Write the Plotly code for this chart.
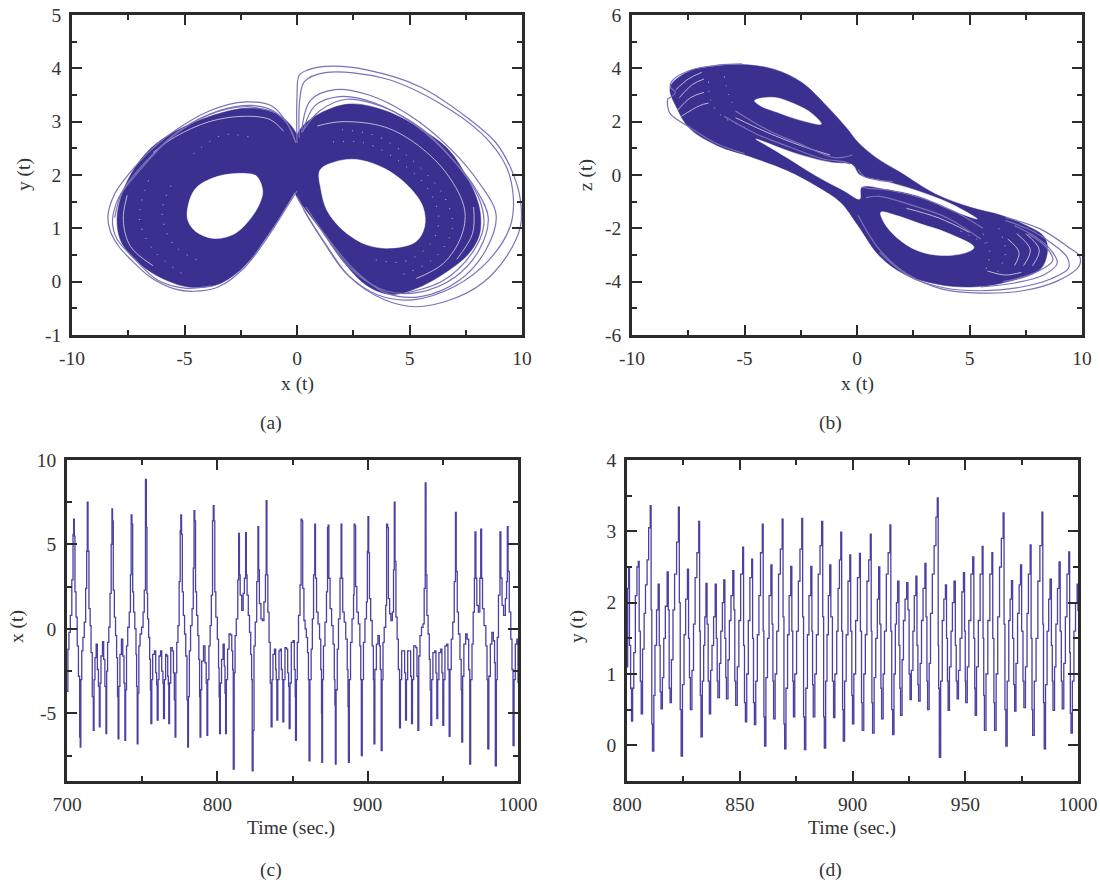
import plotly.graph_objects as go

DARK = "#3a3090"
THIN = "#7a72b8"
PALE = "#c9c5e2"
LINE = "#4a41a2"
INK = "#333333"
FRAME = "#2b2b2b"
FONT = "Liberation Serif"

# ---------- panel (a): y(t) against x(t) ----------
a_left_blob = [(-.03,2.78),(-.5,3.03),(-1.2,3.2),(-2.3,3.25),(-3.86,3.1),(-5.4,2.82),(-6.5,2.5),(-7.4,2.0),(-7.85,1.55),(-8,1.15),(-7.85,.78),(-7.4,.5),(-6.5,.18),(-5.4,-.04),(-4.6,-.11),(-3.5,-.05),(-2.3,.31),(-1.2,.93),(-.45,1.43),(.05,1.8),(.5,2.3)]
a_right_blob = [(-.3,2.0),(.03,2.78),(.8,3.1),(2.3,3.33),(3.9,3.21),(5.4,2.89),(6.7,2.49),(7.6,1.92),(8.07,1.45),(8.17,1.1),(8.07,.83),(7.6,.51),(6.7,.2),(5.4,-.11),(4.2,-.24),(3.1,-.07),(2.03,.39),(1.1,.95),(.33,1.38),(0,1.58)]
a_left_hole = [(-1.53,1.72),(-1.8,1.98),(-2.3,2.03),(-3.55,1.97),(-4.5,1.75),(-4.85,1.4),(-4.85,1.15),(-4.5,.94),(-3.7,.81),(-2.77,.9),(-2,1.22),(-1.6,1.53)]
a_right_hole = [(1.02,2.09),(1.72,2.25),(2.65,2.29),(3.9,2.12),(4.97,1.78),(5.6,1.4),(5.67,1.03),(5.28,.75),(4.2,.63),(3.1,.69),(2.03,.97),(1.33,1.34),(1.07,1.72)]
a_orbits = [
    [(0,2.6),(0,3.47),(.1,3.87),(.48,3.97),(1.56,4.04),(3.1,3.97),(5.44,3.66),(7.3,3.16),(8.85,2.6),(9.6,2.03),(9.93,1.53),(9.93,1.03),(9.31,.47),(8.23,-.03),(6.83,-.34),(5.28,-.47),(3.89,-.34),(2.34,.09),(1.25,.72),(.48,1.22),(0,1.6)],
    [(.1,2.7),(.12,3.4),(.33,3.75),(1.25,3.92),(3.9,3.81),(6.2,3.38),(8.2,2.78),(9.3,2.16),(9.62,1.53),(9.47,1.03),(8.54,.41),(7,-.09),(5.13,-.34),(3.6,-.25),(2.2,.15),(1.1,.8),(.3,1.35)],
    [(.2,2.8),(.6,3.4),(1.7,3.6),(3.2,3.5),(5,3.12),(6.8,2.5),(8.1,1.85),(8.85,1.25),(8.4,.6),(7.2,.02),(5.5,-.28),(4,-.22),(2.6,.2),(1.3,.85),(.4,1.4)],
    [(.25,2.8),(.8,3.3),(1.9,3.47),(3.4,3.36),(5.2,2.95),(6.9,2.3),(8,1.7),(8.5,1.2),(8.1,.6),(7,.08),(5.4,-.2),(4,-.18),(2.5,.2),(1.2,.9)],
    [(.3,2.85),(1,3.2),(2.2,3.42),(3.8,3.28),(5.6,2.85),(7.1,2.2),(8.1,1.55),(8.3,1.05),(7.8,.55),(6.5,.02),(4.8,-.22)],
    [(-.05,2.6),(-.3,2.87),(-1.07,3.28),(-2.3,3.37),(-3.9,3.2),(-5.4,2.84),(-6.2,2.58),(-7,2.25),(-7.7,1.9),(-8.1,1.65),(-8.4,1.25),(-8.3,.95),(-7.9,.65),(-7.4,.42),(-6.5,.08),(-5.4,-.14),(-4.6,-.18),(-3.5,-.1),(-2.3,.28),(-1.2,.9),(-.45,1.4),(0,1.7)],
    [(-.1,2.65),(-.5,3.0),(-1.3,3.25),(-2.4,3.3),(-3.9,3.14),(-5.4,2.78),(-6.9,2.17),(-7.6,1.8),(-8.05,1.45),(-8.2,1.1),(-8,.8),(-7.2,.42),(-6.2,.03),(-5,-.12),(-3.8,-.08)],
    [(-1,3.18),(-2.3,3.28),(-3.9,3.13),(-5.6,2.7),(-7,2.08),(-7.8,1.65),(-8.1,1.2)],
]
a_pale = [
    [(-6.4,2.42),(-5.4,2.72),(-3.9,3.0),(-2.4,3.1),(-1.2,3.04),(-.6,2.82)],
    [(-7.55,1.62),(-7.72,1.15),(-7.4,.66),(-6.4,.3)],
    [(.9,2.92),(2,3.0),(3.9,2.9),(5.4,2.55),(6.7,2.0),(7.45,1.35),(7.3,.85),(6.5,.34),(5.3,.06)],
    [(7.85,1.4),(7.8,.9),(7.1,.42)],
]
a_dashed = [
    [(1.6,2.62),(3,2.6),(4.4,2.3),(5.8,1.75),(6.3,1.2),(6,.75),(4.8,.38),(3.4,.42)],
    [(2,2.85),(3.6,2.72),(5.2,2.25),(6.6,1.55),(6.9,1),(6.1,.44),(4.6,.12)],
    [(-5.6,1.8),(-6,1.3),(-5.5,.7),(-4.4,.4)],
    [(-6.6,1.9),(-7,1.2),(-6.4,.6),(-5,.12)],
    [(-4.6,2.4),(-3.3,2.75),(-2,2.7)],
]

# ---------- panel (b): z(t) against x(t) ----------
b_outline = [(-8.3,3.3),(-7.44,3.9),(-6.2,4.1),(-5.1,4.14),(-3.7,3.97),(-2.45,3.47),(-1.36,2.6),(-.42,1.72),(.05,1.22),(.83,.66),(1.92,.1),(3.48,-.71),(5.04,-1.21),(6.44,-1.52),(7.4,-1.85),(8.3,-2.3),(8.47,-2.78),(8.16,-3.52),(6.6,-4.02),(5.04,-4.2),(3.48,-4.08),(2.07,-3.7),(.98,-3.02),(.05,-1.9),(-.73,-1.02),(-1.82,-.4),(-3.07,.16),(-4.63,.66),(-6.2,1.1),(-7.44,1.75),(-8.0,2.5)]
b_strip = [(-4.5,1.35),(-2.76,.82),(-1.2,.48),(-.3,.41),(-.15,.34),(.12,0),(1.3,-.25),(2.54,-.55),(4.1,-1.05),(5.35,-1.65),(4.26,-1.34),(2.7,-.78),(1.3,-.53),(.2,-.46),(.12,-.9),(-.58,-.59),(-1.82,-.03),(-3.07,.63),(-4,1.1)]
b_upper_hole = [(-4.55,2.79),(-3.7,2.91),(-2.76,2.66),(-1.98,2.29),(-1.59,1.91),(-2.45,2.04),(-3.54,2.35),(-4.3,2.6)]
b_lower_hole = [(1.06,-1.4),(1.76,-1.52),(2.85,-1.84),(3.95,-2.15),(5.2,-2.71),(4.88,-2.9),(3.79,-3.02),(2.7,-2.84),(1.76,-2.34),(1.2,-1.78)]
b_orbits = [
    [(.05,-1.52),(.98,-2.78),(2.23,-3.71),(3.79,-4.28),(5.5,-4.43),(7.38,-4.34),(8.94,-3.96),(9.88,-3.4),(9.88,-3.02),(9.4,-2.71),(8.16,-2.03),(6.6,-1.59)],
    [(1,-2.9),(2.3,-3.8),(3.8,-4.22),(5.5,-4.34),(7.2,-4.22),(8.6,-3.9),(9.4,-3.5),(9.35,-3.1),(8.8,-2.65),(7.8,-2.1),(6.6,-1.7)],
    [(5.5,-4.2),(7,-4.05),(8.3,-3.75),(8.9,-3.3),(8.6,-2.8),(7.9,-2.3),(7,-1.9)],
    [(6.5,-4),(7.8,-3.7),(8.7,-3.2),(8.4,-2.7),(7.6,-2.2)],
    [(.2,-.46),(.5,-.5),(1.5,-.58),(3,-.9),(4.4,-1.4),(5.6,-2)],
    [(.4,-.85),(1,-.8),(2.5,-1.15),(4,-1.6),(5.5,-2.4)],
    [(-.3,.41),(-.6,.5),(-1.5,.6),(-3,1.05),(-4.5,1.55),(-5.9,2.2)],
    [(-.2,.75),(-1,.65),(-2.5,1.15),(-4,1.7),(-5.4,2.4)],
    [(-8.42,2.85),(-8.42,2.6),(-8.3,2.29),(-7.44,1.79),(-6.2,1.16),(-5,.8)],
    [(-8.42,2.85),(-8.07,3.1),(-8.3,3.3),(-8.2,3.55),(-7.44,3.92),(-6.2,4.12),(-5.1,4.17)],
    [(.05,.2),(.3,-.05),(1,-.2),(1.6,-.25)],
]
b_pale = [
    [(-8.05,3.2),(-7.5,3.6),(-6.9,3.85)],
    [(-7.9,2.9),(-7.3,3.4),(-6.8,3.6)],
    [(-8,2.4),(-7.4,2.9),(-6.8,3.1)],
    [(-7.8,2.2),(-7,2.6),(-6.6,2.7)],
    [(-5.4,2.15),(-4,1.6),(-2.5,1.1),(-1.2,.75)],
    [(2.2,-1.25),(3.6,-1.6),(5,-2.15)],
    [(7.5,-2.2),(8.1,-2.8),(7.8,-3.4)],
    [(7.1,-2.2),(7.7,-2.8),(7.4,-3.4)],
    [(6.7,-2.4),(7.2,-2.9),(7,-3.4)],
    [(5.8,-3.6),(6.6,-3.75),(7.3,-3.65)],
]
b_dashed = [
    [(-6.6,3.5),(-6.5,2.8),(-6,2.2),(-5,1.8)],
    [(-5.9,3.7),(-5.7,3),(-5.4,2.5)],
    [(5.6,-2.2),(5.9,-2.9),(5.7,-3.6)],
    [(6.3,-2),(6.6,-2.9),(6.2,-3.7)],
    [(4.6,-2.1),(5.3,-2.4),(5.8,-2.6)],
]

# ---------- panel (c): x(t) against time ----------
c_samples = [
(700,-3.7),(700.6,-1.2),(701.3,-.2),(702.2,.8),(703.2,2.9),(704,5.6),(704.4,6.5),(704.9,5.5),(705.3,2.2),(706,.7),(706.8,-1),(707.6,-2.8),(708.4,-6.4),(708.8,-7),(709.2,-3),(709.8,-1.3),(710.6,-.5),(711.5,.4),(712.4,2.4),(713.1,4.6),(713.5,7.5),(714,4.6),(714.6,1.2),(715.4,.2),(716,-1.4),(716.8,-4),(717.5,-6),(718,-3),(718.6,-1.7),(719.4,-.9),(720.2,-2.4),(720.9,-3.4),(721.5,-5.8),(722,-3.2),(722.6,-1.6),(723.6,-.75),(724.4,-1.8),(725.2,-3.4),(725.9,-6.2),(726.4,-2.5),(727,-.8),(727.8,.1),(728.6,2.1),(729.4,5),(729.9,7.1),(730.3,6.4),(730.8,2.3),(731.5,.7),(732.3,-.4),(733,-1.7),(733.6,-4),(734,-6.5),(734.5,-3.4),(735.2,-1.5),(736.2,-.6),(737.1,-1.6),(737.9,-3.2),(738.5,-6.6),(739,-3.6),(739.6,-1),(740.4,.1),(741.4,1),(742.2,3.2),(742.7,6.75),(743.2,6.2),(743.7,2.2),(744.3,1),(745.1,0),(745.9,-1.5),(746.3,-3.4),(746.7,-6.8),(747.2,-3.8),(747.8,-1),(748.6,-.3),(749.6,.1),(750.6,1),(751.4,2.3),(752.2,8.85),(752.8,6),(753.2,2.1),(753.6,.6),(754.3,-.5),(755,-1.8),(755.5,-3.6),(755.8,-5.6),(756.4,-3),(757,-1.5),(758.2,-1.3),(759,-2.6),(759.6,-3.3),(760,-5.4),(760.6,-3),(761.2,-1.6),(762.2,-1.3),(763,-2.5),(763.8,-3.2),(764.2,-5.3),(764.8,-3),(765.6,-1.5),(766.4,-1.6),(767,-2.8),(767.4,-3.3),(767.7,-5.6),(768.2,-3.2),(769,-1.1),(770,-1.3),(770.8,-2.6),(771.4,-4.2),(771.9,-6.4),(772.4,-2.6),(773,-.8),(773.8,.2),(774.6,2.8),(775.3,5.8),(775.7,6.75),(776.2,5.6),(776.7,2.2),(777.4,.8),(778.2,-.3),(779,-1.6),(779.8,-4.2),(780.3,-7),(780.8,-4),(781.4,-1.3),(782.2,.2),(783.2,1.2),(784,3.6),(784.5,7),(785,6.4),(785.5,2.2),(786.2,.8),(787,-.4),(787.7,-1.8),(788.2,-4),(788.5,-6.4),(789,-3.6),(789.6,-1.9),(790.8,-1),(791.8,-2),(792.6,-3.2),(793.1,-6.3),(793.6,-3),(794.4,-1),(795.2,.2),(796,2),(796.8,6.4),(797.3,7.3),(797.8,6.4),(798.3,2.2),(799,.7),(800,-.6),(800.8,-2.3),(801.2,-4),(801.5,-6.2),(802,-3.2),(802.8,-1.8),(803.8,-.9),(804.6,-2.2),(805.1,-3.8),(805.5,-6.2),(806,-3),(806.8,-1.2),(807.8,-.3),(808.8,-.35),(809.6,-1.3),(810.2,-2.4),(810.6,-8.3),(811.2,-2.6),(811.8,-.4),(812.6,.6),(813.6,2.9),(814.2,5.65),(814.7,3.2),(815.2,2),(816.2,1.1),(817.2,2.1),(818,3),(818.8,5.7),(819.3,3.2),(819.8,2),(820.6,.8),(821.4,-.2),(822.2,-1.5),(822.8,-3),(823.2,-8.4),(823.8,-6),(824.4,-1),(825.2,.4),(826.2,2.8),(827,6.05),(827.5,3.5),(828,1.5),(829,.6),(830,.5),(831,1.6),(832,3.2),(832.5,7.6),(833,3.2),(833.6,1),(834.4,-.8),(835.2,-3.2),(835.8,-5.8),(836.4,-3),(837,-1.5),(838,-1.2),(838.8,-2.4),(839.2,-3),(839.6,-5.4),(840.2,-3),(841,-1.3),(841.8,-1.2),(842.6,-2.4),(843.2,-3),(843.6,-5.5),(844.2,-3),(845,-1.1),(846,-1.2),(846.8,-2.6),(847.4,-3.4),(847.8,-5.9),(848.4,-3.2),(849.2,-.8),(850.4,-.7),(851.2,-2.4),(851.8,-4),(852,-6.6),(852.6,-3),(853.2,-.8),(854,.8),(855,2.6),(855.7,6.5),(856.2,6.4),(856.8,2.4),(857.6,.5),(858.4,0),(859.2,-.5),(860,-1.4),(860.6,-3),(861,-7.8),(861.6,-3),(862.4,-1.2),(863.2,.6),(864,3.2),(864.8,6.2),(865.3,3),(866,1),(867,.3),(868,-.6),(868.8,-2.4),(869.3,-5),(869.5,-7.9),(870,-3),(870.6,-1),(871.6,.4),(872.6,2.2),(873.3,6),(873.7,6.15),(874.2,3),(875,1.2),(876,.2),(877,-.9),(877.8,-3),(878.2,-4.5),(878.5,-8),(879,-3.6),(879.8,-1.2),(880.6,.6),(881.6,3),(882.3,6.2),(882.8,3),(883.4,1),(884.4,.4),(885.4,-.6),(886.4,-2.4),(886.9,-4.6),(887.2,-7.9),(887.8,-3),(888.6,-.8),(889.6,.6),(890.6,2),(891,6.2),(891.5,6.1),(892,2.5),(892.8,1),(893.8,.3),(894.8,-1),(895.4,-3),(895.8,-7.5),(896.4,-3),(897.2,-.8),(898.2,.6),(899.2,1.6),(899.8,4.6),(900.2,6.65),(900.7,4.5),(901.2,1.8),(902,.5),(903,-1),(903.8,-3),(904.2,-6.8),(904.8,-2.4),(905.8,-.9),(906.8,-.4),(907.8,-1),(908.4,-2.4),(909,-7.2),(909.6,-3),(910.2,-.8),(911,.1),(912,1.4),(912.6,6.2),(913.3,6),(913.8,1.8),(914.6,.9),(915.4,.5),(916.4,1),(917.2,3.5),(917.7,7.5),(918.2,4),(918.8,.7),(919.6,-.6),(920.4,-2.4),(921.2,-5.85),(921.8,-3),(922.6,-1.3),(923.8,-1.3),(924.6,-2.6),(925.2,-5.4),(925.8,-3),(926.6,-1.3),(927.8,-1.3),(928.6,-2.8),(929.2,-5.6),(929.8,-3),(930.6,-1),(932,-1.1),(932.8,-2.8),(933.4,-6),(934,-1.6),(934.8,-.4),(935.8,.1),(936.8,.3),(937.6,2.4),(938.3,8.65),(938.8,3.2),(939.4,.8),(940.2,-.3),(941,-1.8),(941.6,-3.6),(942,-5.7),(942.6,-3),(943.4,-1.4),(944.6,-1.3),(945.4,-2.6),(946,-5.3),(946.6,-3),(947.4,-1.4),(948.6,-1.2),(949.4,-2.6),(950,-5.7),(950.6,-3),(951.4,-1),(952.6,-.9),(953.4,-2.4),(954.2,-6.35),(954.8,-2.4),(955.6,-.6),(956.6,.4),(957.6,2.8),(958.4,6.9),(958.9,3.4),(959.6,1),(960.4,-.3),(961.4,-1.8),(962.2,-3.6),(962.6,-6.7),(963.2,-2.8),(964,-.9),(965.2,-.3),(966.2,-.6),(967.2,-2.4),(967.9,-8),(968.5,-3),(969.4,-.9),(970.2,1),(971,3),(971.4,5.75),(972,3),(972.6,1.4),(973.6,1),(974.6,3),(975.2,5.9),(975.8,3),(976.4,1.2),(977.4,.2),(978.6,-1),(979.4,-3),(979.9,-7.1),(980.6,-2.8),(981.6,-.9),(982.6,-.2),(983.6,-.7),(984.4,-2),(984.9,-8.1),(985.6,-3),(986.2,-.5),(987,2),(988,5.75),(988.6,3),(989.4,1.4),(990.4,.8),(991.6,1.8),(992.4,2.8),(992.9,6.05),(993.4,3.4),(994.2,1),(995.2,-.6),(996,-2.4),(996.7,-6.9),(997.4,-3),(998.2,-.9),(999.2,-.6),(1000,-3.2),
]

# ---------- panel (d): y(t) against time ----------
d_samples = [
(800,1.1),(800.3,2.2),(800.7,2.49),(801.1,1.4),(801.6,.8),(802,.34),(802.5,.8),(803,1.3),(803.7,2.1),(804.4,2.5),(805,2.58),(805.4,1.6),(805.9,.9),(806.3,.44),(806.9,1.35),(807.6,1.85),(808.2,2.25),(808.9,2.6),(809.6,3.05),(810.3,3.36),(810.7,1.9),(811,.3),(811.3,-.08),(811.9,.7),(812.4,1.4),(813.1,1.9),(813.8,2.26),(814.3,1.4),(814.7,.75),(815.1,.51),(815.7,.95),(816.3,1.5),(817,1.95),(817.8,2.43),(818.3,1.9),(818.7,.8),(819.1,.6),(819.7,1.2),(820.4,1.9),(821.1,2.4),(822,2.85),(822.8,3.34),(823.2,2),(823.6,.5),(824,-.15),(824.6,.85),(825.3,1.55),(826,2.05),(826.8,2.47),(827.3,1.5),(827.7,.95),(828.1,.5),(828.8,1.05),(829.5,1.7),(830.2,2.35),(831,2.7),(831.8,3.14),(832.2,1.6),(832.5,.7),(832.8,.12),(833.4,.9),(834,1.4),(834.5,1.8),(835,2.27),(835.5,1.7),(836,.9),(836.5,.44),(837.1,1.05),(837.7,1.4),(838.4,1.8),(839.1,2.26),(839.6,1.5),(840,.9),(840.3,.67),(841,1.15),(841.6,1.6),(842.3,2),(842.9,2.32),(843.4,1.5),(843.8,.95),(844.1,.65),(844.8,1.2),(845.4,1.75),(846.1,2.1),(846.9,2.45),(847.4,1.9),(847.8,.9),(848.2,.56),(848.9,1.1),(849.6,1.75),(850.4,2.4),(851.3,2.78),(851.7,1.4),(852.1,.6),(852.5,.33),(853.1,1),(853.8,1.75),(854.5,2.35),(855.3,2.61),(855.7,1.5),(856.1,.6),(856.5,.29),(857.1,.9),(857.8,1.55),(858.5,2.1),(859.2,2.7),(860,3.1),(860.4,1.6),(860.7,.4),(861,-.01),(861.6,.95),(862.3,1.5),(863,2.1),(863.8,2.53),(864.3,1.7),(864.7,.9),(865,.37),(865.7,1),(866.4,1.6),(867.2,2.4),(868,2.75),(868.8,3.17),(869.2,1.8),(869.6,.3),(869.9,-.05),(870.5,.8),(871.2,1.55),(871.9,2.1),(872.6,2.51),(873.1,1.6),(873.5,.9),(873.8,.4),(874.4,1),(875.2,1.6),(876,2.3),(876.7,2.75),(877.5,3.18),(877.9,1.8),(878.3,.4),(878.7,-.06),(879.3,.8),(880,1.55),(880.7,2.1),(881.5,2.51),(882,1.6),(882.3,.85),(882.6,.4),(883.3,1),(884,1.55),(884.8,2.4),(885.6,2.8),(886.3,3.14),(886.8,1.8),(887.2,.4),(887.5,-.04),(888.1,.9),(888.7,1.55),(889.3,2.1),(889.9,2.53),(890.4,1.8),(891.1,.9),(891.6,.39),(892.2,1),(893,1.6),(893.6,2.2),(894.2,2.6),(894.8,2.99),(895.2,1.6),(895.6,.5),(895.9,.06),(896.5,.9),(897.2,1.55),(898,2.3),(898.8,2.67),(899.2,1.6),(899.7,.7),(900,.3),(900.6,1),(901.4,1.75),(902.2,2.35),(903.1,2.69),(903.5,1.6),(904,.6),(904.3,.21),(905,1),(905.7,1.55),(906.4,2.3),(907.2,2.6),(907.9,2.96),(908.3,1.6),(908.6,.6),(908.9,.17),(909.6,.95),(910.3,1.5),(911,2.05),(911.6,2.5),(912.1,1.7),(912.6,.8),(912.9,.37),(913.6,1),(914.2,1.6),(915,2.4),(915.8,2.7),(916.6,3.09),(917,1.6),(917.4,.5),(917.8,.15),(918.4,1),(919,1.7),(919.5,2),(920,2.3),(920.6,1.4),(921,.8),(921.3,.42),(922,1.2),(922.6,1.75),(923.3,2.05),(924,2.28),(924.6,1.9),(925.1,1),(925.5,.64),(926.1,1.05),(926.8,1.6),(927.4,2.1),(928.1,2.37),(928.6,1.4),(929,.85),(929.3,.62),(930,1.15),(930.6,1.75),(931.3,2.2),(932.1,2.55),(932.6,1.8),(933,.9),(933.3,.5),(934,1.15),(934.6,1.85),(935.4,2.4),(936.2,2.8),(937,3.2),(937.6,3.47),(938,1.4),(938.2,.8),(938.5,-.17),(939.1,.9),(939.8,1.75),(940.5,2.05),(941.2,2.25),(941.7,1.5),(942.1,.9),(942.4,.49),(943,1.1),(943.7,1.6),(944.3,2),(945,2.3),(945.6,1.4),(946,.9),(946.4,.65),(947,1.05),(947.7,1.5),(948.5,2.15),(949.2,2.42),(949.7,1.6),(950,.9),(950.2,.6),(950.9,1.1),(951.6,1.75),(952.5,2.4),(953.3,2.64),(953.8,1.5),(954.2,.8),(954.4,.42),(955,1.1),(955.8,1.75),(956.6,2.4),(957.5,2.79),(957.9,1.5),(958.2,.7),(958.5,.21),(959.2,1),(960,1.75),(960.9,2.4),(961.8,2.7),(962.2,1.5),(962.7,.6),(963,.21),(963.7,1),(964.4,1.8),(965.2,2.5),(966,2.9),(966.8,3.26),(967.2,1.7),(967.6,.5),(968,-.01),(968.6,.9),(969.3,1.75),(969.9,2.05),(970.5,2.31),(971,1.5),(971.5,.85),(971.9,.48),(972.5,1.15),(973.2,1.85),(973.9,2.25),(974.5,2.53),(975,1.6),(975.6,.9),(976,.53),(976.7,1.1),(977.4,1.85),(978,2.4),(978.8,2.81),(979.2,1.5),(979.6,.5),(979.9,.14),(980.6,.9),(981.4,1.5),(982.2,2.3),(983.1,2.8),(984,3.27),(984.4,1.7),(984.7,.6),(985,-.05),(985.6,.85),(986.3,1.6),(987,2.05),(987.6,2.33),(988.2,1.4),(988.6,.9),(988.9,.49),(989.6,1.1),(990.2,1.7),(990.9,2.2),(991.6,2.57),(992.1,1.6),(992.6,.9),(993,.51),(993.7,1.15),(994.4,1.8),(995.1,2.4),(995.9,2.71),(996.3,1.3),(996.6,.45),(996.9,.17),(997.5,.9),(998.2,1.6),(998.9,2),(999.6,2.26),(1000,1.88),
]

x_tick_labels_phase = ["-10", "-5", "0", "5", "10"]
y_tick_labels_a = ["-1", "0", "1", "2", "3", "4", "5"]
y_tick_labels_b = ["-6", "-4", "-2", "0", "2", "4", "6"]
x_tick_labels_c = ["700", "800", "900", "1000"]
y_tick_labels_c = ["-5", "0", "5", "10"]
x_tick_labels_d = ["800", "850", "900", "950", "1000"]
y_tick_labels_d = ["0", "1", "2", "3", "4"]

W, H = 1100, 884
fig = go.Figure()


def xs(p):
    return [q[0] for q in p]


def ys(p):
    return [q[1] for q in p]


def blob(name, pts, color):
    closed = pts + pts[:1]
    fig.add_trace(go.Scatter(x=xs(closed), y=ys(closed), xaxis=f"x{name}", yaxis=f"y{name}",
                             mode="lines", fill="toself", fillcolor=color,
                             line=dict(color=color, width=0.5, shape="spline"),
                             hoverinfo="skip", showlegend=False))


def curve(name, pts, color, width=1.0, shape="spline", dash="solid"):
    fig.add_trace(go.Scatter(x=xs(pts), y=ys(pts), xaxis=f"x{name}", yaxis=f"y{name}",
                             mode="lines", line=dict(color=color, width=width, shape=shape, dash=dash),
                             hoverinfo="skip", showlegend=False))


blob("", a_left_blob, DARK)
blob("", a_right_blob, DARK)
blob("", a_left_hole, "white")
blob("", a_right_hole, "white")
for o in a_pale:
    curve("", o, PALE, 0.9)
for o in a_dashed:
    curve("", o, PALE, 1.0, dash="1px,9px")
for o in a_orbits:
    curve("", o, THIN, 1.2)

blob("2", b_outline, DARK)
blob("2", b_strip, "white")
blob("2", b_upper_hole, "white")
blob("2", b_lower_hole, "white")
for o in b_pale:
    curve("2", o, PALE, 0.9)
for o in b_dashed:
    curve("2", o, PALE, 1.0, dash="1px,8px")
for o in b_orbits:
    curve("2", o, THIN, 1.2)

curve("3", c_samples, LINE, 1.3, "hv")
curve("4", d_samples, LINE, 1.3, "hv")


def axis(domain, rng, minor, vals, anchor, horizontal):
    d = (domain[0] / W, domain[1] / W) if horizontal else (1 - domain[1] / H, 1 - domain[0] / H)
    return dict(domain=d, range=rng, anchor=anchor, automargin=False, tickmode="array",
                tickvals=[float(v) for v in vals], ticktext=vals,
                ticks="inside", ticklen=10, tickwidth=2, tickcolor=FRAME,
                minor=dict(ticks="inside", ticklen=5, tickwidth=2, tickcolor=FRAME, dtick=minor, tick0=0),
                showgrid=False, zeroline=False, showline=True, linecolor=FRAME, linewidth=2.5,
                mirror="ticks", layer="above traces",
                tickfont=dict(family=FONT, size=19.5, color=INK), ticklabelstandoff=4)


layout = dict(
    width=W, height=H, autosize=False, margin=dict(l=0, r=0, t=0, b=0, autoexpand=False),
    paper_bgcolor="white", plot_bgcolor="white", showlegend=False,
    xaxis=axis((72, 522), [-10, 10], 2.5, x_tick_labels_phase, "y", True),
    yaxis=axis((15, 335), [-1, 5], 0.5, y_tick_labels_a, "x", False),
    xaxis2=axis((632, 1082), [-10, 10], 2.5, x_tick_labels_phase, "y2", True),
    yaxis2=axis((15, 335), [-6, 6], 1, y_tick_labels_b, "x2", False),
    xaxis3=axis((67, 518), [700, 1000], 50, x_tick_labels_c, "y3", True),
    yaxis3=axis((460, 781), [-9, 10], 2.5, y_tick_labels_c, "x3", False),
    xaxis4=axis((627, 1078), [800, 1000], 25, x_tick_labels_d, "y4", True),
    yaxis4=axis((460, 781), [-0.5, 4], 0.5, y_tick_labels_d, "x4", False),
)
labels = [
    ("x (t)", 297, 384, 0), ("(a)", 271, 423, 0), ("y (t)", 24, 175, -90),
    ("x (t)", 857, 384, 0), ("(b)", 830, 423, 0), ("z (t)", 586, 175, -90),
    ("Time (sec.)", 291, 828, 0), ("(c)", 271, 870, 0), ("x (t)", 17, 627, -90),
    ("Time (sec.)", 852, 828, 0), ("(d)", 830, 870, 0), ("y (t)", 577, 627, -90),
]
layout["annotations"] = [dict(text=t, x=px / W, y=1 - py / H, xref="paper", yref="paper",
                              xanchor="center", yanchor="middle", textangle=a, showarrow=False,
                              font=dict(family=FONT, size=19.5, color=INK))
                         for t, px, py, a in labels]
fig.update_layout(**layout)
fig.write_html("out.html", post_script="document.body.style.margin='0';",
               config=dict(displayModeBar=False))
